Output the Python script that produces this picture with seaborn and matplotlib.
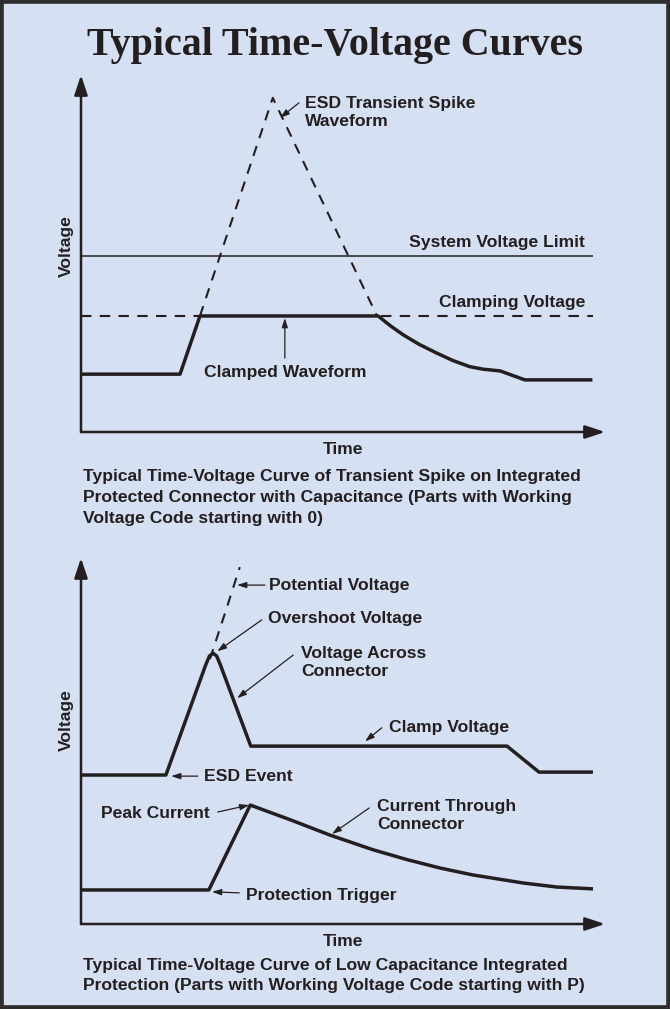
import matplotlib
matplotlib.use("Agg")
import matplotlib.pyplot as plt
from matplotlib.patches import Rectangle
import seaborn as sns

# ---- data (time and voltage in arbitrary units, axis arrow tips at 100) ----
# Upper chart: capacitive protected connector
clamped_time = [0, 18.9, 22.7, 56.7, 59.0, 61.5, 64.6, 67.9, 71.0, 74.2, 76.7, 80.0, 84.7, 97.6]
clamped_volt = [16.2, 16.2, 32.5, 32.5, 29.8, 27.2, 24.5, 22.1, 20.0, 18.3, 17.6, 17.1, 14.6, 14.6]
spike_time = [22.7, 36.6, 56.5]
spike_volt = [32.5, 93.6, 32.5]
system_limit_volt = 49.3
clamping_volt = 32.5
reference_end_time = 97.7

# Lower chart: low capacitance protection
across_time = [0, 16.2, 23.8, 24.5, 25.2, 25.9, 26.6, 32.4, 81.3, 87.4, 97.7]
across_volt = [40.7, 40.7, 70.8, 73.2, 74.0, 73.2, 70.8, 48.6, 48.6, 41.5, 41.5]
potential_time = [24.6, 27.5, 30.3]
potential_volt = [72.4, 85.0, 97.5]
current_time = [0, 24.4, 32.3, 39.9, 47.5, 55.7, 62.2, 68.5, 74.8, 84.4, 90.8, 97.7]
current_volt = [9.3, 9.3, 32.5, 28.5, 24.3, 20.3, 17.6, 15.3, 13.4, 11.2, 10.1, 9.6]

title = "Typical Time-Voltage Curves"
caption_top = ("Typical Time-Voltage Curve of Transient Spike on Integrated\n"
               "Protected Connector with Capacitance (Parts with Working\n"
               "Voltage Code starting with 0)")
caption_bottom = ("Typical Time-Voltage Curve of Low Capacitance Integrated\n"
                  "Protection (Parts with Working Voltage Code starting with P)")

# ---- style ----
sns.set_theme(style="white")
plt.rcParams["font.family"] = ["Liberation Sans", "DejaVu Sans"]
BG = "#d6e0f3"
INK = "#231f20"
LABEL_KW = dict(fontsize=12.6, fontweight="bold", color=INK)

fig = plt.figure(figsize=(6.70, 10.09), dpi=100, facecolor=BG)
W, H = 670, 1009


def make_axes(left, top, right, bottom):
    ax = fig.add_axes([left / W, 1 - bottom / H, (right - left) / W, (bottom - top) / H])
    ax.set_facecolor("none")
    ax.set_xlim(0, 100)
    ax.set_ylim(0, 100)
    for s in ax.spines.values():
        s.set_visible(False)
    ax.set_xticks([])
    ax.set_yticks([])
    arrow = dict(arrowstyle="-|>,head_length=0.6,head_width=0.2", lw=1.8,
                 color=INK, mutation_scale=20, shrinkA=0, shrinkB=0)
    ax.annotate("", xy=(1, 0), xytext=(0, 0), xycoords="axes fraction",
                arrowprops=arrow, annotation_clip=False)
    ax.annotate("", xy=(0, 1), xytext=(0, 0), xycoords="axes fraction",
                arrowprops=arrow, annotation_clip=False)
    return ax


def pointer(ax, xy, xytext):
    ax.annotate("", xy=xy, xytext=xytext,
                arrowprops=dict(arrowstyle="-|>,head_length=0.55,head_width=0.18",
                                lw=0.9, color=INK, mutation_scale=10,
                                shrinkA=0, shrinkB=0))


def line(ax, x, y, lw, dashed=False):
    kw = dict(color=INK, linewidth=lw, sort=False, estimator=None, ax=ax,
              solid_joinstyle="round", solid_capstyle="butt")
    if dashed:
        kw["linestyle"] = (0, (5, 4))
    sns.lineplot(x=x, y=y, **kw)
    ax.lines[-1].set_clip_on(False)


def axis_titles(ax, ylab_frac):
    ax.text(-0.027, ylab_frac, "Voltage", transform=ax.transAxes, rotation=90,
            ha="center", va="center", **LABEL_KW)
    ax.text(0.5, -0.048, "Time", transform=ax.transAxes, ha="center",
            va="center", **LABEL_KW)


# ---- upper chart ----
ax1 = make_axes(81, 75, 605, 432)
line(ax1, spike_time, spike_volt, 1.5, dashed=True)
line(ax1, [0, reference_end_time], [system_limit_volt] * 2, 1.1)
line(ax1, [0, reference_end_time], [clamping_volt] * 2, 1.5, dashed=True)
line(ax1, clamped_time, clamped_volt, 2.5)

ax1.text(42.7, 89.5, "ESD Transient Spike\nWaveform", ha="left", va="center",
         linespacing=1.2, **LABEL_KW)
pointer(ax1, (38.0, 88.0), (41.6, 92.2))
ax1.text(96.2, 53.2, "System Voltage Limit", ha="right", va="center", **LABEL_KW)
ax1.text(96.2, 36.4, "Clamping Voltage", ha="right", va="center", **LABEL_KW)
ax1.text(38.9, 16.8, "Clamped Waveform", ha="center", va="center", **LABEL_KW)
pointer(ax1, (38.9, 31.9), (38.9, 20.7))
axis_titles(ax1, 0.521)

# ---- lower chart ----
ax2 = make_axes(81, 558, 605, 924)
line(ax2, potential_time, potential_volt, 1.5, dashed=True)
line(ax2, across_time, across_volt, 2.5)
line(ax2, current_time, current_volt, 2.5)

ax2.text(35.9, 92.6, "Potential Voltage", ha="left", va="center", **LABEL_KW)
pointer(ax2, (29.8, 92.6), (35.1, 92.6))
ax2.text(35.7, 83.6, "Overshoot Voltage", ha="left", va="center", **LABEL_KW)
pointer(ax2, (26.0, 74.5), (34.5, 83.1))
ax2.text(42.0, 71.4, "Voltage Across\nConnector", ha="left", va="center",
         linespacing=1.2, **LABEL_KW)
pointer(ax2, (29.8, 61.7), (40.5, 73.5))
ax2.text(58.8, 53.6, "Clamp Voltage", ha="left", va="center", **LABEL_KW)
pointer(ax2, (54.2, 49.9), (57.4, 53.6))
ax2.text(23.5, 40.2, "ESD Event", ha="left", va="center", **LABEL_KW)
pointer(ax2, (17.2, 40.4), (22.3, 40.4))
ax2.text(3.8, 30.3, "Peak Current", ha="left", va="center", **LABEL_KW)
pointer(ax2, (32.1, 32.5), (26.1, 30.6))
ax2.text(56.5, 29.6, "Current Through\nConnector", ha="left", va="center",
         linespacing=1.2, **LABEL_KW)
pointer(ax2, (47.9, 24.6), (55.0, 31.7))
ax2.text(31.5, 7.9, "Protection Trigger", ha="left", va="center", **LABEL_KW)
pointer(ax2, (25.0, 8.8), (30.2, 8.5))
axis_titles(ax2, 0.557)

# ---- title, captions, frame ----
fig.text(335 / W, 1 - 46 / H, title, ha="center", va="center", fontsize=28.8,
         fontweight="bold", family=["Liberation Serif", "DejaVu Serif"], color=INK)
fig.text(83 / W, 1 - 469 / H, caption_top, ha="left", va="top", linespacing=1.5,
         **LABEL_KW)
fig.text(83 / W, 1 - 958 / H, caption_bottom, ha="left", va="top", linespacing=1.45,
         **LABEL_KW)
fig.patches.append(Rectangle((0, 0), 1, 1, transform=fig.transFigure, fill=False,
                             edgecolor="#2e2e2e", linewidth=5.5))

fig.savefig("out.png", dpi=100, facecolor=BG)
